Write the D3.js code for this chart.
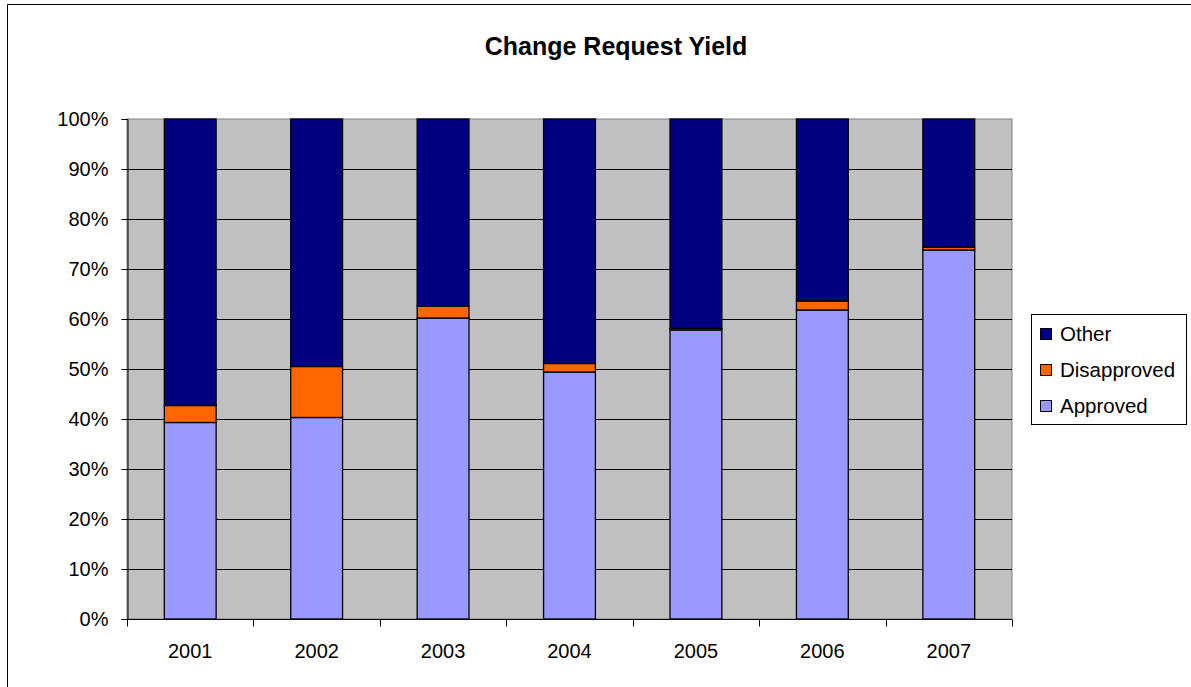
<!DOCTYPE html>
<html><head><meta charset="utf-8">
<script src="https://cdn.jsdelivr.net/npm/d3@7"></script>
<style>html,body{margin:0;background:#fff;overflow:hidden;} svg{display:block;} text{font-family:"Liberation Sans",Arial,sans-serif;}</style>
</head><body>
<svg id="c" width="1191" height="687"></svg>
<script>
const years = ["2001","2002","2003","2004","2005","2006","2007"];
const approved    = [39.3, 40.3, 60.2, 49.4, 57.8, 61.8, 73.8];
const disapproved = [3.4, 10.2, 2.4, 1.7, 0.3, 1.8, 0.6];
const other = approved.map((a,i)=>100 - a - disapproved[i]);
const seriesNames = ["Approved","Disapproved","Other"];
const seriesColors = ["#9999FF","#FF6600","#000080"];
const yTicks = [0,10,20,30,40,50,60,70,80,90,100];

const svg = d3.select("#c");
const m = {left:127, right:1012, top:119, bottom:619};

// outer chart border (only left and top edges are inside the window)
svg.append("line").attr("x1",7.5).attr("x2",7.5).attr("y1",4.5).attr("y2",687).attr("stroke","#000");
svg.append("line").attr("x1",7.5).attr("x2",1191).attr("y1",4.5).attr("y2",4.5).attr("stroke","#000");

const x = d3.scaleBand().domain(years).range([m.left,m.right]).paddingInner(0.59).paddingOuter(0.295);
const y = d3.scaleLinear().domain([0,100]).range([m.bottom,m.top]);

svg.append("rect").attr("x",m.left).attr("y",m.top).attr("width",m.right-m.left).attr("height",m.bottom-m.top)
  .attr("fill","#C0C0C0").attr("stroke","#808080").attr("stroke-width",1);

svg.append("g").selectAll("line").data(yTicks.filter(t=>t>0 && t<100)).join("line")
  .attr("x1",m.left).attr("x2",m.right).attr("y1",d=>Math.round(y(d))+0.5).attr("y2",d=>Math.round(y(d))+0.5)
  .attr("stroke","#000").attr("stroke-width",1);

const rows = years.map((yr,i)=>({year:yr, Approved:approved[i], Disapproved:disapproved[i], Other:other[i]}));
const stack = d3.stack().keys(seriesNames)(rows);
svg.append("g").selectAll("g").data(stack).join("g")
  .attr("fill",(d,i)=>seriesColors[i])
  .selectAll("rect").data(d=>d).join("rect")
  .attr("x",d=>x(d.data.year)).attr("width",x.bandwidth())
  .attr("y",d=>y(d[1])).attr("height",d=>y(d[0])-y(d[1]))
  .attr("stroke","#000").attr("stroke-width",1.3);

// y axis
const ya = svg.append("g").attr("transform",`translate(${m.left+0.5},0)`)
  .call(d3.axisLeft(y).tickValues(yTicks).tickFormat(d=>d+"%").tickSize(6).tickPadding(13));
ya.select(".domain").attr("stroke","#000");
ya.selectAll("text").attr("font-size","20px").attr("fill","#000").attr("font-family","Liberation Sans, Arial, sans-serif");

// x axis
const xa = svg.append("g").attr("transform",`translate(0,${m.bottom+0.5})`);
xa.append("line").attr("x1",m.left).attr("x2",m.right).attr("stroke","#000");
const bounds = d3.range(years.length+1).map(i=>m.left + i*(m.right-m.left)/years.length);
xa.selectAll("line.t").data(bounds).join("line").attr("class","t")
  .attr("x1",d=>Math.round(d)+0.5).attr("x2",d=>Math.round(d)+0.5).attr("y1",0).attr("y2",7).attr("stroke","#000");
xa.selectAll("text").data(years).join("text")
  .attr("x",d=>x(d)+x.bandwidth()/2).attr("y",38).attr("text-anchor","middle")
  .attr("font-size","20px").attr("fill","#000").text(d=>d);

// title
svg.append("text").attr("x",616).attr("y",55).attr("text-anchor","middle")
  .attr("font-size","25px").attr("font-weight","bold").text("Change Request Yield");

// legend
const lg = svg.append("g");
lg.append("rect").attr("x",1031.5).attr("y",314.5).attr("width",155).attr("height",110)
  .attr("fill","#fff").attr("stroke","#000");
const legendOrder = ["Other","Disapproved","Approved"];
legendOrder.forEach((n,i)=>{
  const c = seriesColors[seriesNames.indexOf(n)];
  const cy = 334 + i*36;
  lg.append("rect").attr("x",1040.5).attr("y",cy-5.5).attr("width",11).attr("height",11)
    .attr("fill",c).attr("stroke","#000").attr("stroke-width",1);
  lg.append("text").attr("x",1060).attr("y",cy+7).attr("font-size","20.5px").text(n);
});
</script>
</body></html>
